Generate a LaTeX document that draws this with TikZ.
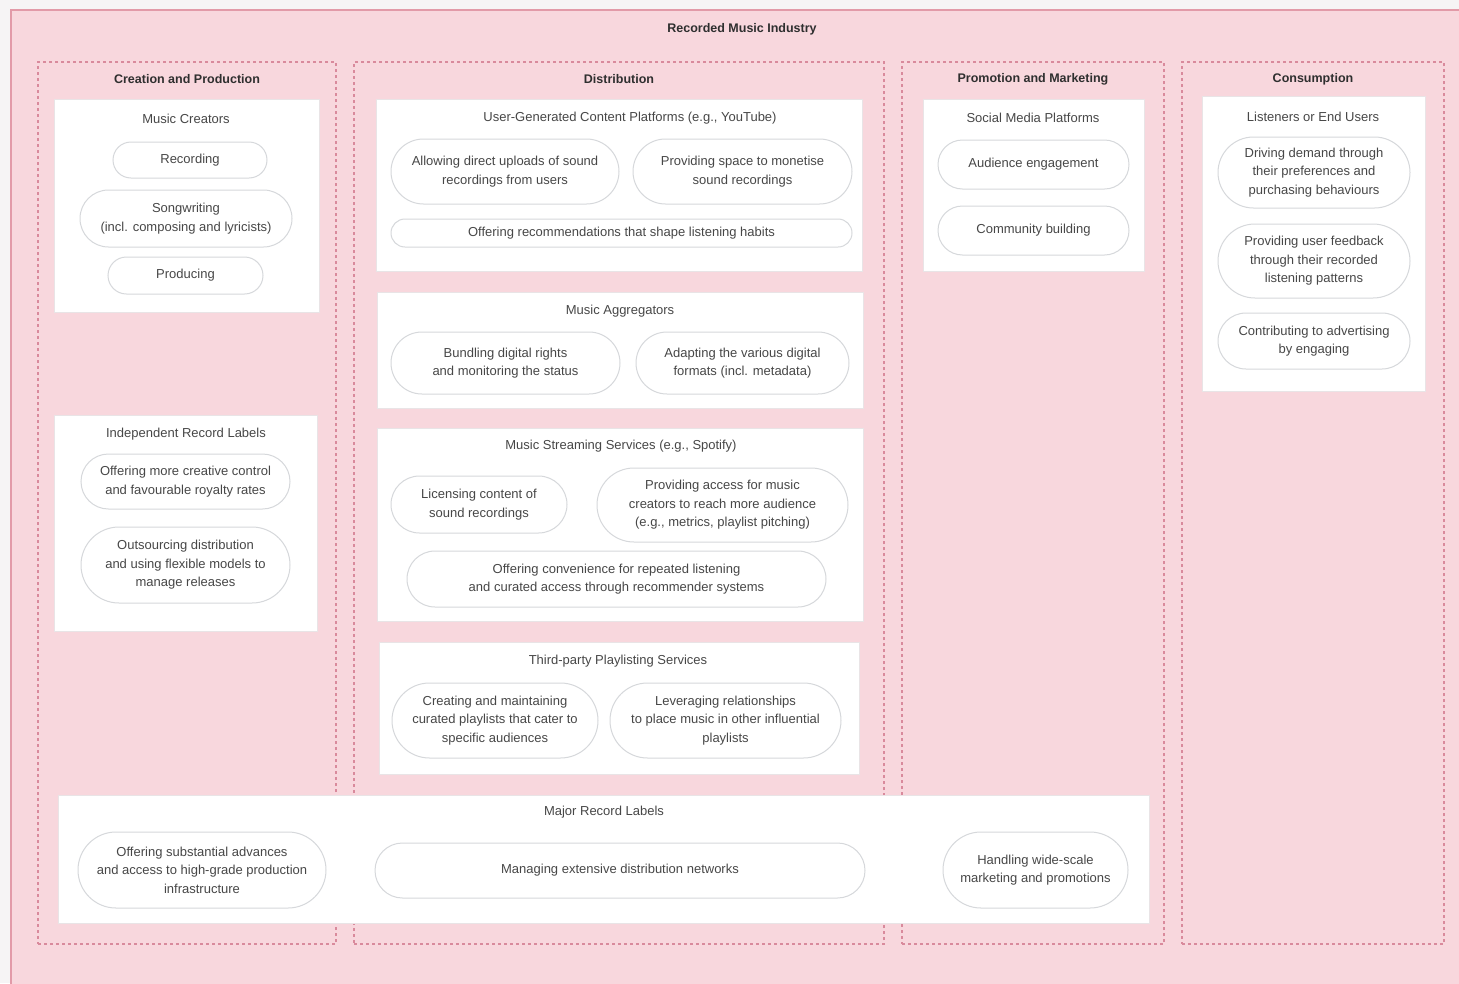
\documentclass[tikz,border=0pt]{standalone}
\usepackage{fontspec}
\setmainfont{Liberation Sans}
\usetikzlibrary{shapes.misc}
\definecolor{pagebg}{HTML}{F6F4F5}
\definecolor{bgpink}{HTML}{F8D7DD}
\definecolor{edgepink}{HTML}{E29AA8}
\definecolor{dashpink}{HTML}{D98A9C}
\definecolor{pilledge}{HTML}{D6D8DB}
\definecolor{cardedge}{HTML}{E9E4E6}
\definecolor{txt}{HTML}{474747}
\definecolor{ttl}{HTML}{2F2F2F}
\newcommand\regionbox[6]{\node[#6, anchor=north west, minimum width={#4-#2}, minimum height={#5-#3}] (#1) at (#2,#3) {};}
\newcommand\pillnode[6]{\node[pill, minimum width={#4-#2}, minimum height={#5-#3}] (#1) at ({(#2+#4)/2},{(#3+#5)/2}) {#6};}
\begin{document}
\begin{tikzpicture}[x=1pt,y=-1pt,
  outerbox/.style={fill=bgpink, draw=edgepink, line width=1.5pt, inner sep=0pt, outer sep=0pt},
  column/.style={draw=dashpink, line width=1.1pt, dash pattern=on 3pt off 3pt, inner sep=0pt, outer sep=0pt},
  card/.style={fill=white, draw=cardedge, line width=0.8pt, inner sep=0pt, outer sep=0pt},
  pill/.style={rounded rectangle, draw=pilledge, line width=1pt, fill=white, align=center, text=txt,
    font=\fontsize{13}{18.5}\selectfont, inner sep=0pt},
  cardtitle/.style={text=txt, font=\fontsize{13}{15}\selectfont, inner sep=0pt},
  coltitle/.style={text=ttl, font=\bfseries\fontsize{12.5}{15}\selectfont, inner sep=0pt}]
\useasboundingbox[fill=pagebg] (0,0) rectangle (1459,983);
% outer industry panel
\regionbox{industry}{11}{10}{1475}{1000}{outerbox}
\node[coltitle] (industrytitle) at (742,29) {Recorded Music Industry};
% columns
\regionbox{colA}{38}{62}{336}{944}{column}
\regionbox{colB}{354}{62}{884}{944}{column}
\regionbox{colC}{902}{62}{1164}{944}{column}
\regionbox{colD}{1182}{62}{1444}{944}{column}
\node[coltitle] (colAt) at (187,79) {Creation and Production};
\node[coltitle] (colBt) at (619,79) {Distribution};
\node[coltitle] (colCt) at (1033,79) {Promotion and Marketing};
\node[coltitle] (colDt) at (1313,79) {Consumption};
% cards
\regionbox{mc}{54}{99}{319}{312}{card}
\regionbox{irl}{54}{415}{317}{631}{card}
\regionbox{ugc}{376}{99}{862}{271}{card}
\regionbox{agg}{377}{292}{863}{408}{card}
\regionbox{mss}{377}{428}{863}{621}{card}
\regionbox{tps}{379}{642}{859}{774}{card}
\regionbox{smp}{923}{99}{1144}{271}{card}
\regionbox{leu}{1202}{96}{1425}{391}{card}
\regionbox{mrl}{58}{795}{1149}{923}{card}
% card titles
\node[cardtitle] (mct) at (186,118.5) {Music Creators};
\node[cardtitle] (irlt) at (186,434.5) {Independent Record Labels};
\node[cardtitle] (ugct) at (630,118.5) {User-Generated Content Platforms (e.g., YouTube)};
\node[cardtitle] (aggt) at (620,311.5) {Music Aggregators};
\node[cardtitle] (msst) at (621,446.5) {Music Streaming Services (e.g., Spotify)};
\node[cardtitle] (tpst) at (618,661.5) {Third-party Playlisting Services};
\node[cardtitle] (smpt) at (1033,117.5) {Social Media Platforms};
\node[cardtitle] (leut) at (1313,116.5) {Listeners or End Users};
\node[cardtitle] (mrlt) at (604,812.5) {Major Record Labels};
% Music Creators
\pillnode{mc1}{113}{142}{267}{178}{Recording}
\pillnode{mc2}{80}{190}{292}{247}{Songwriting\\(incl. composing and lyricists)}
\pillnode{mc3}{108}{257}{263}{294}{Producing}
% Independent Record Labels
\pillnode{irl1}{81}{454}{290}{509}{Offering more creative control\\and favourable royalty rates}
\pillnode{irl2}{81}{527}{290}{603}{Outsourcing distribution\\and using flexible models to\\manage releases}
% UGC
\pillnode{ugc1}{391}{139}{619}{204}{Allowing direct uploads of sound\\recordings from users}
\pillnode{ugc2}{633}{139}{852}{204}{Providing space to monetise\\sound recordings}
\pillnode{ugc3}{391}{219}{852}{247}{Offering recommendations that shape listening habits}
% Aggregators
\pillnode{agg1}{391}{332}{620}{394}{Bundling digital rights\\and monitoring the status}
\pillnode{agg2}{636}{332}{849}{394}{Adapting the various digital\\formats (incl. metadata)}
% Streaming
\pillnode{mss1}{391}{476}{567}{533}{Licensing content of\\sound recordings}
\pillnode{mss2}{597}{468}{848}{542}{Providing access for music\\creators to reach more audience\\(e.g., metrics, playlist pitching)}
\pillnode{mss3}{407}{551}{826}{607}{Offering convenience for repeated listening\\and curated access through recommender systems}
% Playlisting
\pillnode{tps1}{392}{683}{598}{758}{Creating and maintaining\\curated playlists that cater to\\specific audiences}
\pillnode{tps2}{610}{683}{841}{758}{Leveraging relationships\\to place music in other influential\\playlists}
% Social media
\pillnode{smp1}{938}{140}{1129}{189}{Audience engagement}
\pillnode{smp2}{938}{206}{1129}{255}{Community building}
% Listeners
\pillnode{leu1}{1218}{137}{1410}{208}{Driving demand through\\their preferences and\\purchasing behaviours}
\pillnode{leu2}{1218}{224}{1410}{298}{Providing user feedback\\through their recorded\\listening patterns}
\pillnode{leu3}{1218}{313}{1410}{369}{Contributing to advertising\\by engaging}
% Major labels
\pillnode{mrl1}{78}{832}{326}{908}{Offering substantial advances\\and access to high-grade production\\infrastructure}
\pillnode{mrl2}{375}{843}{865}{898}{Managing extensive distribution networks}
\pillnode{mrl3}{943}{832}{1128}{908}{Handling wide-scale\\marketing and promotions}
\end{tikzpicture}
\end{document}
